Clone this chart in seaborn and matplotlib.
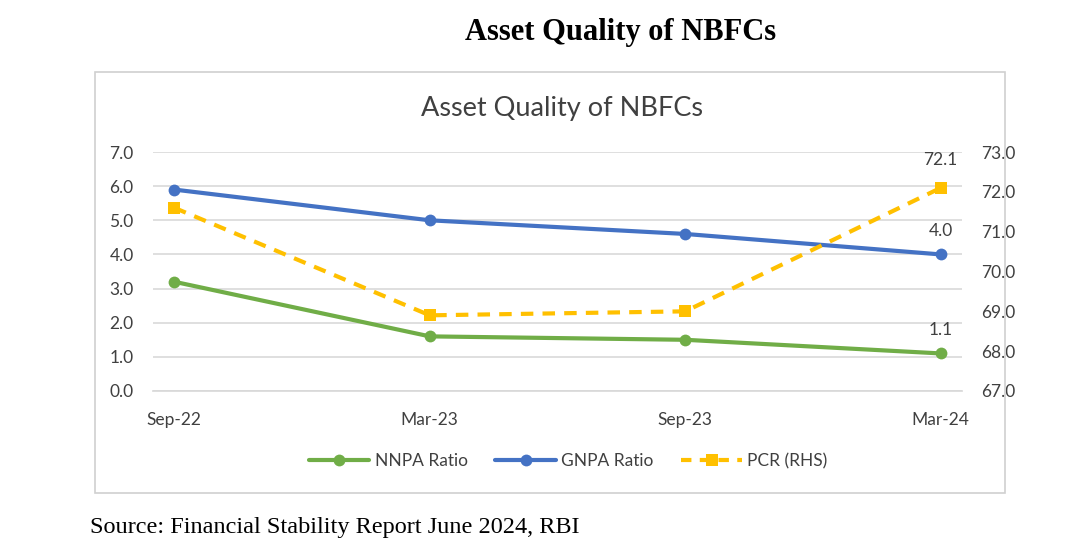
import pandas as pd
import seaborn as sns
from matplotlib import pyplot as plt
from matplotlib.patches import Rectangle
from matplotlib.lines import Line2D

periods = ["Sep-22", "Mar-23", "Sep-23", "Mar-24"]
nnpa_ratio = [3.2, 1.6, 1.5, 1.1]
gnpa_ratio = [5.9, 5.0, 4.6, 4.0]
pcr_rhs = [71.6, 68.9, 69.0, 72.1]

green = "#70AD47"
blue = "#4472C4"
yellow = "#FFC000"
grid_grey = "#D9D9D9"
text_grey = "#404040"

sns.set_theme(style="white")
plt.rcParams["font.family"] = ["Lato", "DejaVu Sans"]

df = pd.DataFrame({"period": periods, "NNPA Ratio": nnpa_ratio,
                   "GNPA Ratio": gnpa_ratio, "PCR (RHS)": pcr_rhs})
df["pos"] = range(len(df))

fig = plt.figure(figsize=(10.8, 5.49), dpi=100)
fig.patch.set_facecolor("white")

# chart frame
fig.patches.append(Rectangle((0.088, 0.102), 0.8426, 0.767, transform=fig.transFigure,
                             fill=False, edgecolor="#D0D0D0", linewidth=1.2))

ax = fig.add_axes([0.1417, 0.2878, 0.749, 0.4353])
ax2 = ax.twinx()

sns.lineplot(data=df, x="pos", y="NNPA Ratio", ax=ax, color=green, linewidth=3,
             marker="o", markersize=8.5, markeredgewidth=0, zorder=3)
sns.lineplot(data=df, x="pos", y="GNPA Ratio", ax=ax, color=blue, linewidth=3,
             marker="o", markersize=8.5, markeredgewidth=0, zorder=3)
sns.lineplot(data=df, x="pos", y="PCR (RHS)", ax=ax2, color=yellow, linewidth=3,
             marker="s", markersize=8.5, markeredgewidth=0, dashes=(3, 2.2))

ax.set_xlim(-0.083, 3.083)
ax.set_ylim(0, 7)
ax2.set_ylim(67, 73)
ax.set_yticks(range(0, 8))
ax.set_yticklabels([f"{v:.1f}" for v in range(0, 8)])
ax2.set_yticks(range(67, 74))
ax2.set_yticklabels([f"{v:.1f}" for v in range(67, 74)])
ax.set_xticks(df["pos"])
ax.set_xticklabels(periods)

ax.grid(axis="y", color=grid_grey, linewidth=1.2)
ax.set_axisbelow(True)
ax.set_xlabel("")
ax.set_ylabel("")
ax2.set_ylabel("")
for a in (ax, ax2):
    for s in a.spines.values():
        s.set_visible(False)
    a.tick_params(length=0, labelsize=12.5, labelcolor=text_grey)
ax.spines["bottom"].set_visible(True)
ax.spines["bottom"].set_color(grid_grey)
ax.tick_params(axis="y", pad=14)
ax.tick_params(axis="x", pad=15)
ax2.tick_params(axis="y", pad=14)

# data labels on the last point
ax2.annotate(f"{pcr_rhs[-1]:.1f}", (3, pcr_rhs[-1]), xytext=(0, 14), textcoords="offset points",
             ha="center", va="bottom", fontsize=12.5, color=text_grey)
ax.annotate(f"{gnpa_ratio[-1]:.1f}", (3, gnpa_ratio[-1]), xytext=(0, 11), textcoords="offset points",
            ha="center", va="bottom", fontsize=12.5, color=text_grey)
ax.annotate(f"{nnpa_ratio[-1]:.1f}", (3, nnpa_ratio[-1]), xytext=(0, 11), textcoords="offset points",
            ha="center", va="bottom", fontsize=12.5, color=text_grey)

handles = [
    Line2D([], [], color=green, linewidth=3, marker="o", markersize=8.5, markeredgewidth=0),
    Line2D([], [], color=blue, linewidth=3, marker="o", markersize=8.5, markeredgewidth=0),
    Line2D([], [], color=yellow, linewidth=3, marker="s", markersize=8.5, markeredgewidth=0,
           linestyle=(0, (2.5, 2))),
]
fig.legend(handles, ["NNPA Ratio", "GNPA Ratio", "PCR (RHS)"], loc="center",
           bbox_to_anchor=(0.526, 0.16), ncol=3, frameon=False, fontsize=12.5,
           handlelength=3.5, columnspacing=1.6, handletextpad=0.3, labelcolor=text_grey)

fig.text(0.52, 0.803, "Asset Quality of NBFCs", ha="center", va="center",
         fontsize=19.5, color=text_grey)
fig.text(0.575, 0.94, "Asset Quality of NBFCs", ha="center", va="center",
         fontsize=22, fontweight="bold", family=["Liberation Serif", "DejaVu Serif"], color="black")
fig.text(0.083, 0.04, "Source: Financial Stability Report June 2024, RBI", ha="left", va="center",
         fontsize=17.5, family=["Liberation Serif", "DejaVu Serif"], color="black")

fig.savefig("out.png", dpi=100, facecolor="white")
